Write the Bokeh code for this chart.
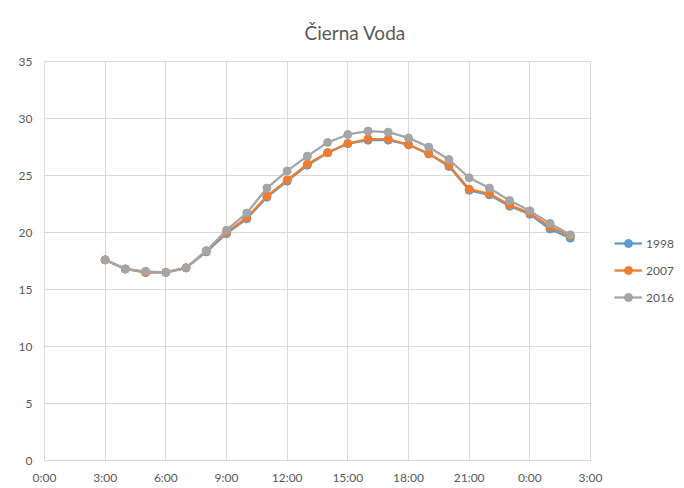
from bokeh.plotting import figure
from bokeh.models import FixedTicker, Legend, LegendItem, Range1d
from bokeh.embed import file_html
from bokeh.resources import INLINE

# ---- data -------------------------------------------------------------
hours = [3, 4, 5, 6, 7, 8, 9, 10, 11, 12, 13, 14, 15, 16, 17, 18, 19, 20,
         21, 22, 23, 24, 25, 26]
t1998 = [17.6, 16.8, 16.5, 16.5, 16.9, 18.3, 19.9, 21.2, 23.1, 24.5, 25.9, 27.0,
         27.8, 28.1, 28.1, 27.7, 26.9, 25.8, 23.7, 23.3, 22.3, 21.6, 20.3, 19.5]
t2007 = [17.6, 16.8, 16.5, 16.5, 16.9, 18.4, 20.0, 21.3, 23.2, 24.6, 26.0, 27.0,
         27.8, 28.2, 28.2, 27.7, 26.9, 25.9, 23.8, 23.4, 22.4, 21.7, 20.5, 19.7]
t2016 = [17.6, 16.8, 16.6, 16.5, 16.9, 18.4, 20.2, 21.7, 23.9, 25.4, 26.7, 27.9,
         28.6, 28.9, 28.8, 28.3, 27.5, 26.4, 24.8, 23.9, 22.8, 21.9, 20.8, 19.8]
series_names = ["1998", "2007", "2016"]
series_colors = ["#5B9BD5", "#ED7D31", "#A5A5A5"]
x_ticks = [0, 3, 6, 9, 12, 15, 18, 21, 24, 27]
x_tick_labels = ["0:00", "3:00", "6:00", "9:00", "12:00", "15:00", "18:00",
                 "21:00", "0:00", "3:00"]
y_ticks = [0, 5, 10, 15, 20, 25, 30, 35]
title_text = "Čierna Voda"

FONT = "Lato"
TXT = "#595959"
GRID = "#d9d9d9"

p = figure(frame_width=546, frame_height=399, output_backend="svg",
           toolbar_location=None, x_range=Range1d(0, 27), y_range=Range1d(0, 35),
           min_border_left=44, min_border_top=61, min_border_right=94,
           min_border_bottom=10)
p.title.text = title_text
p.title.align = "left"
p.title.offset = 260
p.title.text_font = FONT
p.title.text_font_size = "19px"
p.title.text_font_style = "normal"
p.title.text_color = TXT
p.title.standoff = 36

p.outline_line_color = GRID
for ax in (p.xaxis[0], p.yaxis[0]):
    ax.axis_line_color = None
    ax.major_tick_line_color = None
    ax.minor_tick_line_color = None
    ax.major_label_text_font = FONT
    ax.major_label_text_font_size = "12px"
    ax.major_label_text_color = TXT

p.xaxis[0].ticker = FixedTicker(ticks=x_ticks)
p.xaxis[0].major_label_overrides = {t: l for t, l in zip(x_ticks, x_tick_labels)}
p.xaxis[0].major_label_standoff = 3
p.yaxis[0].ticker = FixedTicker(ticks=y_ticks)
p.yaxis[0].major_label_standoff = 6

p.xgrid[0].ticker = FixedTicker(ticks=x_ticks)
p.ygrid[0].ticker = FixedTicker(ticks=y_ticks)
p.xgrid.grid_line_color = GRID
p.ygrid.grid_line_color = GRID

items = []
for name, vals, col in zip(series_names, [t1998, t2007, t2016], series_colors):
    r1 = p.line(hours, vals, line_color=col, line_width=2.25)
    r2 = p.scatter(hours, vals, size=8, fill_color=col, line_color=col)
    items.append(LegendItem(label=name, renderers=[r1, r2]))

legend = Legend(items=items, location=(24, 153), border_line_color=None,
                background_fill_alpha=0, label_text_font=FONT,
                label_text_font_size="12px", label_text_color=TXT,
                spacing=7, glyph_width=28, label_standoff=4, padding=4,
                margin=0)
p.add_layout(legend, "right")

open("out.html", "w").write(file_html(p, INLINE))
